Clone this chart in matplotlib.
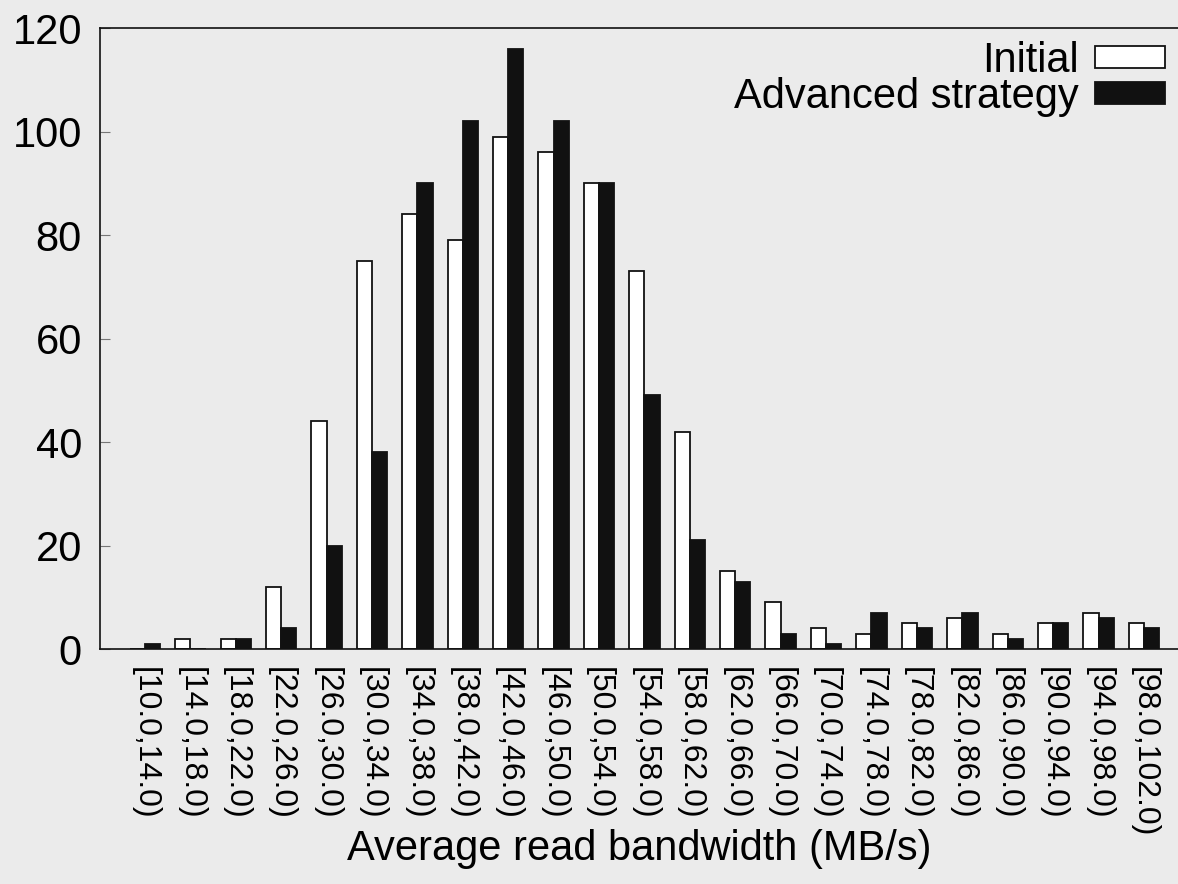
import matplotlib.pyplot as plt
import numpy as np

bins = ['[10.0,14.0)', '[14.0,18.0)', '[18.0,22.0)', '[22.0,26.0)', '[26.0,30.0)',
        '[30.0,34.0)', '[34.0,38.0)', '[38.0,42.0)', '[42.0,46.0)', '[46.0,50.0)',
        '[50.0,54.0)', '[54.0,58.0)', '[58.0,62.0)', '[62.0,66.0)', '[66.0,70.0)',
        '[70.0,74.0)', '[74.0,78.0)', '[78.0,82.0)', '[82.0,86.0)', '[86.0,90.0)',
        '[90.0,94.0)', '[94.0,98.0)', '[98.0,102.0)']
initial = [0, 2, 2, 12, 44, 75, 84, 79, 99, 96, 90, 73, 42, 15, 9, 4, 3, 5, 6, 3, 5, 7, 5]
advanced = [1, 0, 2, 4, 20, 38, 90, 102, 116, 102, 90, 49, 21, 13, 3, 1, 7, 4, 7, 2, 5, 6, 4]

plt.rcParams['font.family'] = ['Liberation Sans', 'DejaVu Sans']
bg = '#ebebeb'

fig = plt.figure(figsize=(11.78, 8.84), dpi=100, facecolor=bg)
ax = fig.add_axes([0.0849, 0.2658, 0.9151, 0.7025], facecolor=bg)

x = np.arange(len(bins))
w = 0.335
ax.bar(x - w, initial, w, align='edge', color='white', edgecolor='#111111',
       linewidth=1.3, label='Initial')
ax.bar(x, advanced, w, align='edge', color='#111111', edgecolor='#111111',
       linewidth=1.3, label='Advanced strategy')

ax.set_xlim(-0.99, 22.75)
ax.set_ylim(0, 120)
ax.set_yticks(range(0, 121, 20))
ax.set_xticks(x)
ax.set_xticklabels(bins, rotation=270, fontsize=23)
ax.tick_params(axis='x', length=0, pad=13)
ax.tick_params(axis='y', direction='in', length=7, color='#777777',
               labelsize=30, pad=13)
ax.spines['right'].set_visible(False)
for s in ['left', 'top', 'bottom']:
    ax.spines[s].set_linewidth(1.2)
    ax.spines[s].set_color('#111111')

ax.set_xlabel('Average read bandwidth (MB/s)', fontsize=30, labelpad=-6)

ax.legend(loc='upper right', frameon=False, markerfirst=False, fontsize=30,
          handlelength=1.68, handleheight=0.41, handletextpad=0.4,
          labelspacing=-0.1, borderaxespad=-0.09)

fig.savefig('out.png', dpi=100, facecolor=bg)
